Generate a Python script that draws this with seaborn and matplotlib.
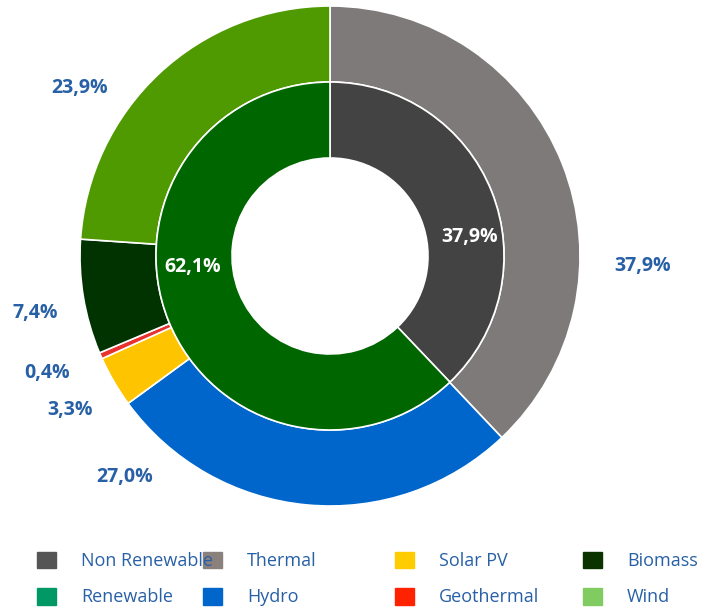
#!/usr/bin/env python3
"""energy mix - nested donut chart"""

import matplotlib.pyplot as plt
import matplotlib.patches as mpatches
import seaborn as sns

# inner ring
inner_labels = ["Non Renewable", "Renewable"]
inner_values = [37.9, 62.1]
inner_colors = ["#444343", "#006600"]

# outer ring (clockwise from top)
outer_labels = ["Thermal", "Hydro", "Solar PV", "Geothermal", "Biomass", "Wind"]
outer_values = [37.9, 27.0, 3.3, 0.4, 7.4, 23.9]
outer_colors = ["#7f7a7a", "#0066cc", "#ffc400", "#e8322e", "#003300", "#4f9a00"]

# legend (row-wise as in the picture)
legend_labels = ["Non Renewable", "Thermal", "Solar PV", "Biomass",
                 "Renewable", "Hydro", "Geothermal", "Wind"]
legend_colors = ["#555555", "#8a817c", "#ffcc00", "#0a3300",
                 "#009966", "#0066cc", "#ff2200", "#80cc60"]

# where the value labels sit (pie radius units)
outer_label_pos = [(1.252, -0.04), (-0.82, -0.884), (-1.04, -0.616),
                   (-1.132, -0.468), (-1.18, -0.228), (-1.0, 0.672)]
inner_label_pos = [(0.56, 0.076), (-0.548, -0.044)]

sns.set_theme(style="white")
plt.rcParams['font.family'] = ['Open Sans', 'DejaVu Sans']

blue = "#2860a6"
fig = plt.figure(figsize=(7.11, 6.14), dpi=100)
ax = fig.add_axes([0, 0, 1, 1])

wedge = dict(edgecolor="white", linewidth=1.2)
ax.pie(outer_values, colors=outer_colors, radius=1.0, startangle=90,
       counterclock=False, wedgeprops=dict(width=0.304, **wedge))
ax.pie(inner_values, colors=inner_colors, radius=0.696, startangle=90,
       counterclock=False, wedgeprops=dict(width=0.304, **wedge))

fmt = lambda v: f"{v:.1f}%".replace(".", ",")
for v, (x, y) in zip(outer_values, outer_label_pos):
    ax.text(x, y, fmt(v), ha="center", va="center", color=blue,
            fontsize=14, fontweight="bold")
for v, (x, y) in zip(inner_values, inner_label_pos):
    ax.text(x, y, fmt(v), ha="center", va="center", color="white",
            fontsize=14, fontweight="bold")

ax.set_xlim(-1.32, 1.524)
ax.set_ylim(-1.432, 1.024)
ax.axis("off")

# legend: one small legend per column (drawn right to left so text sits on top)
col_x = [37, 203, 395, 583]
for i in reversed(range(len(col_x))):
    idx = [i, i + 4]
    handles = [mpatches.Patch(color=legend_colors[j], label=legend_labels[j]) for j in idx]
    fig.legend(handles=handles, loc="center left",
               bbox_to_anchor=(col_x[i] / 711, 1 - 579 / 614), frameon=False,
               fontsize=13, labelcolor=blue, handlelength=1.05,
               handleheight=1.05, handletextpad=1.38, labelspacing=0.97,
               borderpad=0, borderaxespad=0)

fig.savefig("out.png", dpi=100, facecolor="white")
